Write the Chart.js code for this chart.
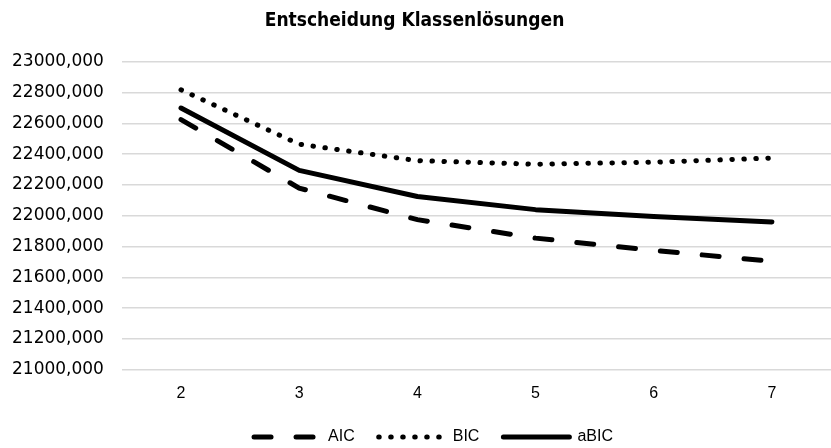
<!DOCTYPE html>
<html lang="de">
<head>
    <meta charset="UTF-8">
    <title>Entscheidung Klassenlösungen</title>
    <script src="https://cdn.jsdelivr.net/npm/chart.js"></script>
    <style>
        html, body {
            margin: 0;
            padding: 0;
            background-color: #fff;
        }

        .chart-box {
            width: 831px;
            height: 448px;
        }
    </style>
</head>
<body>

    <div class="chart-box">
        <canvas id="klassenChart"></canvas>
    </div>

    <script>
        const klassen = ['2', '3', '4', '5', '6', '7'];
        const aicWerte = [22625, 22180, 21975, 21855, 21775, 21705];
        const bicWerte = [22818, 22465, 22358, 22335, 22348, 22375];
        const abicWerte = [22700, 22295, 22125, 22040, 21995, 21960];

        const yMin = 21000;
        const yMax = 23000;
        const yStep = 200;

        const yTickFont = { family: '"DejaVu Sans", sans-serif', size: 17 };
        const textFont = { family: '"Liberation Sans", Arial, sans-serif', size: 16 };

        function formatTick(value) {
            return value.toFixed(3).replace('.', ',');
        }

        // legend items should show the dataset's own dash pattern
        function legendLabels(chart) {
            const items = Chart.defaults.plugins.legend.labels.generateLabels(chart);
            items.forEach(item => {
                const ds = chart.data.datasets[item.datasetIndex];
                item.lineDash = ds.borderDash || [];
                item.lineWidth = ds.borderWidth;
                item.lineCap = 'round';
                item.strokeStyle = '#000';
                item.fillStyle = '#000';
                item.pointStyle = 'line';
            });
            return items;
        }

        // nudge the legend a bit after layout (Excel puts it slightly right of centre)
        const legendNudge = {
            id: 'legendNudge',
            afterLayout(chart) {
                const lg = chart.legend;
                if (!lg) return;
                lg.left += 19;
                lg.right += 19;
                lg.top -= 4;
                lg.bottom -= 4;
            }
        };

        const ctx = document.getElementById('klassenChart').getContext('2d');

        new Chart(ctx, {
            type: 'line',
            data: {
                labels: klassen,
                datasets: [
                    {
                        label: 'AIC',
                        data: aicWerte,
                        borderColor: '#000',
                        backgroundColor: '#000',
                        borderWidth: 5,
                        borderDash: [17, 25],
                        borderCapStyle: 'round',
                        tension: 0,
                        pointRadius: 0,
                        fill: false
                    },
                    {
                        label: 'BIC',
                        data: bicWerte,
                        borderColor: '#000',
                        backgroundColor: '#000',
                        borderWidth: 5,
                        borderDash: [0.5, 11.5],
                        borderCapStyle: 'round',
                        tension: 0,
                        pointRadius: 0,
                        fill: false
                    },
                    {
                        label: 'aBIC',
                        data: abicWerte,
                        borderColor: '#000',
                        backgroundColor: '#000',
                        borderWidth: 5,
                        borderCapStyle: 'round',
                        borderJoinStyle: 'round',
                        tension: 0,
                        pointRadius: 0,
                        fill: false
                    }
                ]
            },
            options: {
                responsive: true,
                maintainAspectRatio: false,
                animation: false,
                layout: {
                    padding: { left: -6, right: -4, top: 0, bottom: -11 }
                },
                plugins: {
                    title: {
                        display: true,
                        text: 'Entscheidung Klassenlösungen',
                        color: '#000',
                        font: { family: '"Liberation Sans Narrow", "DejaVu Sans Condensed", sans-serif', size: 19, weight: 'bold' },
                        padding: { top: 10, bottom: 29 }
                    },
                    legend: {
                        position: 'bottom',
                        labels: {
                            color: '#000',
                            font: textFont,
                            usePointStyle: true,
                            pointStyleWidth: 66,
                            boxHeight: 16,
                            padding: 24,
                            generateLabels: legendLabels
                        }
                    },
                    tooltip: { enabled: false }
                },
                scales: {
                    x: {
                        offset: true,
                        grid: { display: false },
                        border: { display: false },
                        ticks: { color: '#000', font: textFont, padding: 6 }
                    },
                    y: {
                        min: yMin,
                        max: yMax,
                        grid: { color: '#d9d9d9', lineWidth: 1.5, drawTicks: false },
                        border: { display: false },
                        ticks: {
                            stepSize: yStep,
                            color: '#000',
                            font: yTickFont,
                            padding: 18,
                            callback: formatTick
                        }
                    }
                }
            },
            plugins: [legendNudge]
        });
    </script>

</body>
</html>
